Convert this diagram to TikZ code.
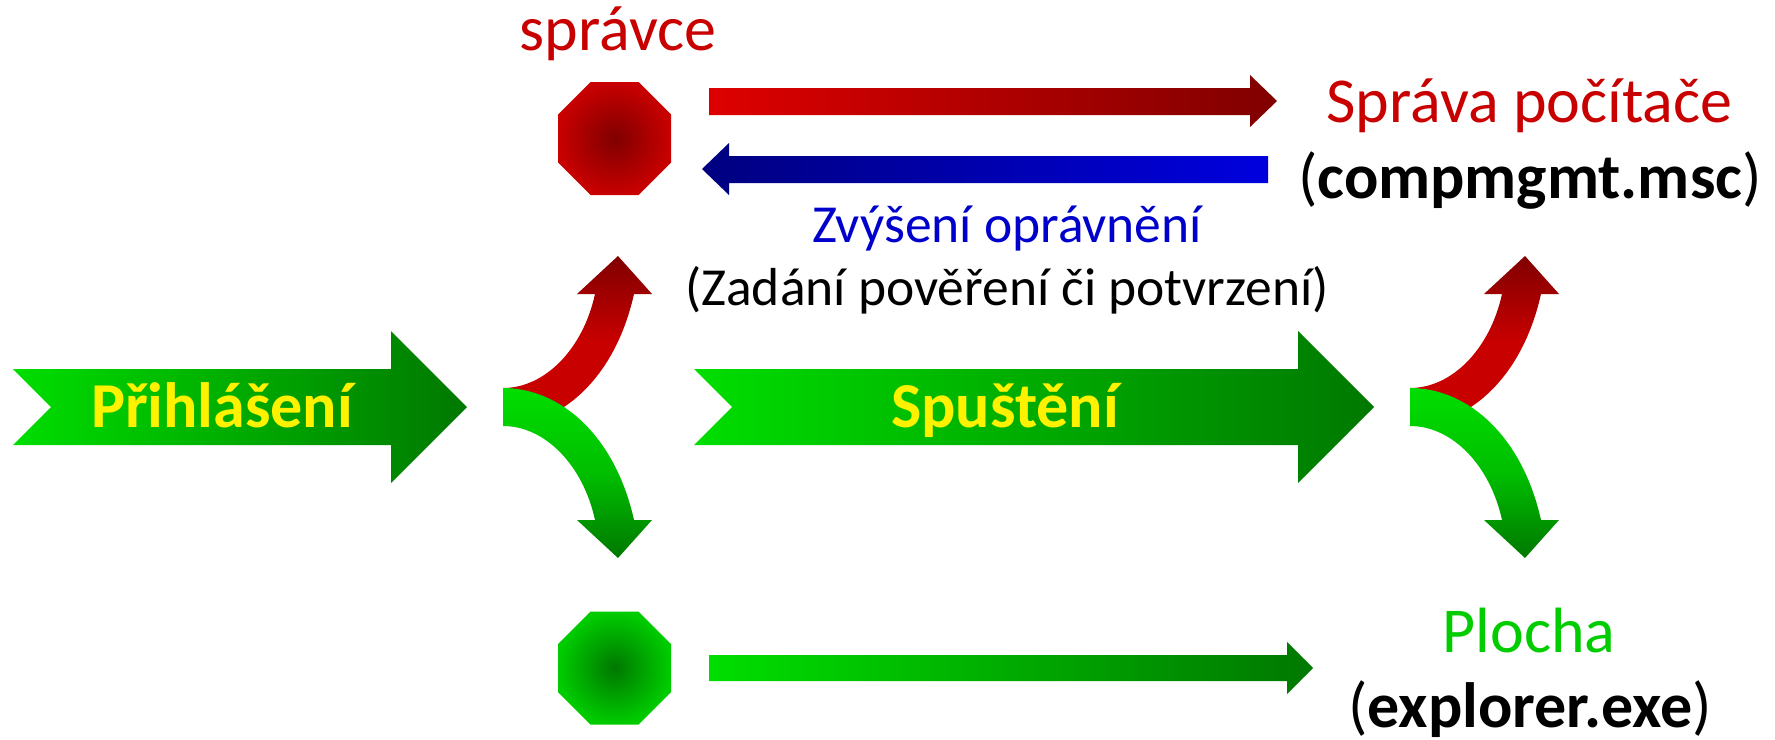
\documentclass[tikz,border=0pt]{standalone}
\usepackage{fontspec}
\setmainfont{Carlito}
\definecolor{grL}{RGB}{0,222,0}
\definecolor{grD}{RGB}{0,120,0}
\definecolor{grM}{RGB}{0,190,0}
\definecolor{grO}{RGB}{0,204,0}
\definecolor{rdL}{RGB}{222,0,0}
\definecolor{rdM}{RGB}{200,0,0}
\definecolor{rdD}{RGB}{128,0,0}
\definecolor{blL}{RGB}{0,0,222}
\definecolor{blD}{RGB}{0,0,128}
\definecolor{blT}{RGB}{0,0,204}
\newcommand{\fs}[1]{\fontsize{#1pt}{#1pt}\selectfont}
\tikzset{
  greenflow/.style={left color=grL,right color=grD,draw=none},
  redflow/.style={left color=rdL,right color=rdD,draw=none},
  blueflow/.style={left color=blD,right color=blL,draw=none},
  forkred/.style={top color=rdD,bottom color=rdM,middle color=rdM,draw=none},
  forkgreen/.style={top color=grL,bottom color=grD,middle color=grM,draw=none},
  octred/.style={inner color=rdD,outer color=rdM,draw=none},
  octgreen/.style={inner color=grD,outer color=grO,draw=none},
  caption/.style={anchor=base,inner sep=0pt,font=\fs{64}},
  subcaption/.style={anchor=base,inner sep=0pt,font=\fs{53.5}},
  flowlabel/.style={anchor=base,inner sep=0pt,font=\fs{64}\bfseries,text=yellow},
}
\newcommand{\forkpair}{%
  \path[forkred] (503,388) .. controls (545,388) and (583,349) .. (595,294)
    -- (577,294) -- (618,256) -- (652,294) -- (634,294)
    .. controls (615,379) and (560,426) .. (503,426) -- cycle;
  \path[forkgreen] (503,388) .. controls (560,388) and (615,435) .. (634,520)
    -- (652,520) -- (618,558) -- (577,520) -- (595,520)
    .. controls (583,465) and (545,426) .. (503,426) -- cycle;
}
\newcommand{\octagon}[3]{%
  \path[#1] (#2-24,#3-56.5) -- (#2+24,#3-56.5) -- (#2+56.5,#3-24) -- (#2+56.5,#3+24)
    -- (#2+24,#3+56.5) -- (#2-24,#3+56.5) -- (#2-56.5,#3+24) -- (#2-56.5,#3-24) -- cycle;
}
\begin{document}
\begin{tikzpicture}[x=1pt,y=-1pt]
\useasboundingbox (0,0) rectangle (1775,739);
% big arrows
\path[greenflow] (13,369) -- (391,369) -- (391,331) -- (467,407) -- (391,483) -- (391,445) -- (13,445) -- (51,407) -- cycle;
\path[greenflow] (694,369) -- (1298,369) -- (1298,331) -- (1374,407) -- (1298,483) -- (1298,445) -- (694,445) -- (732,407) -- cycle;
\node[flowlabel] (login) at (222,427) {Přihlášení};
\node[flowlabel] (launch) at (1005,427) {Spuštění};
% octagons
\octagon{octred}{614.5}{138.5}
\octagon{octgreen}{614.5}{668}
% straight arrows
\path[redflow] (709,88) -- (1250,88) -- (1250,75) -- (1277,101) -- (1250,127) -- (1250,115) -- (709,115) -- cycle;
\path[blueflow] (1268,156) -- (729,156) -- (729,143) -- (702,169) -- (729,195) -- (729,183) -- (1268,183) -- cycle;
\path[greenflow] (709,655) -- (1287,655) -- (1287,642) -- (1313,668) -- (1287,694) -- (1287,681) -- (709,681) -- cycle;
% forks
\forkpair
\begin{scope}[shift={(907,0)}]
\forkpair
\end{scope}
% labels
\node[caption,text=rdM] (admin) at (618,50.5) {správce};
\node[caption,text=rdM] (mgmt) at (1529.5,122) {Správa počítače};
\node[caption] (mgmtexe) at (1530,198) {(\textbf{compmgmt.msc})};
\node[subcaption,text=blT] (raise) at (1007,242) {Zvýšení oprávnění};
\node[subcaption] (creds) at (1007,305) {(Zadání pověření či potvrzení)};
\node[caption,text=grO] (desk) at (1529,652) {Plocha};
\node[caption] (deskexe) at (1530,727) {(\textbf{explorer.exe})};
\end{tikzpicture}
\end{document}
